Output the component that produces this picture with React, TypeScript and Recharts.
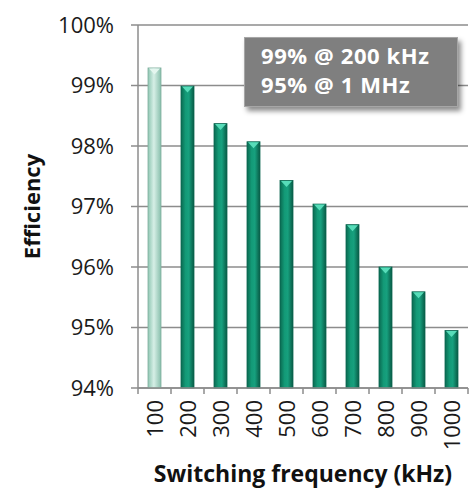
import { BarChart, Bar, XAxis, YAxis, CartesianGrid } from 'recharts';

const frequencies = ['100', '200', '300', '400', '500', '600', '700', '800', '900', '1000'];
const efficiency = [99.29, 98.99, 98.37, 98.07, 97.43, 97.04, 96.7, 96.0, 95.59, 94.95];
const yTicks = [94, 95, 96, 97, 98, 99, 100];
const noteLines = ['99% @ 200 kHz', '95% @ 1 MHz'];

const data = frequencies.map((f, i) => ({ freq: f, eff: efficiency[i] }));

const FONT = '"Open Sans", "Noto Sans", sans-serif';
const GRID = '#8c8c8c';

// bar with horizontal shading and the little light triangle on top
const BarShape = (props: any) => {
  const { x, y, width, height, index } = props;
  const first = index === 0;
  const tri = Math.min(7, width / 2);
  return (
    <g>
      <rect x={x} y={y} width={width} height={height} fill={first ? 'url(#gradLight)' : 'url(#gradTeal)'} stroke={first ? '#7fae9e' : '#0b6650'} strokeWidth={0.8} />
      <polygon
        points={`${x + 1},${y + 0.5} ${x + width - 1},${y + 0.5} ${x + width / 2},${y + tri}`}
        fill={first ? '#e4f6ef' : '#57dcb9'}
      />
    </g>
  );
};

const XTick = (props: any) => {
  const { x, y, payload, index } = props;
  const half = 16.5;
  return (
    <g>
      <line x1={x - half} y1={y} x2={x - half} y2={y + 6} stroke={GRID} strokeWidth={1.5} />
      {index === frequencies.length - 1 && (
        <line x1={x + half} y1={y} x2={x + half} y2={y + 6} stroke={GRID} strokeWidth={1.5} />
      )}
      <text
        x={x + 8}
        y={y + 12}
        transform={`rotate(-90 ${x + 8} ${y + 12})`}
        textAnchor="end"
        fontSize={22}
        fontFamily={FONT}
        fill="#1a1a1a"
      >
        {payload.value}
      </text>
    </g>
  );
};

export default function App() {
  return (
    <div style={{ position: 'absolute', left: 0, top: 0, width: 472, height: 489, background: '#fff', fontFamily: FONT }}>
      <BarChart width={472} height={489} data={data} margin={{ top: 25, right: 4, bottom: 0, left: 0 }} barCategoryGap={0}>
        <defs>
          <linearGradient id="gradTeal" x1="0" y1="0" x2="1" y2="0">
            <stop offset="0%" stopColor="#0a6a51" />
            <stop offset="35%" stopColor="#139a77" />
            <stop offset="60%" stopColor="#17a07e" />
            <stop offset="100%" stopColor="#085a45" />
          </linearGradient>
          <linearGradient id="gradLight" x1="0" y1="0" x2="1" y2="0">
            <stop offset="0%" stopColor="#8ec6b2" />
            <stop offset="45%" stopColor="#d6efe6" />
            <stop offset="100%" stopColor="#88bfac" />
          </linearGradient>
        </defs>
        <CartesianGrid vertical={false} stroke={GRID} strokeWidth={1.5} />
        <XAxis
          dataKey="freq"
          height={101}
          interval={0}
          tickLine={false}
          tickSize={0}
          tickMargin={0}
          axisLine={{ stroke: GRID, strokeWidth: 1.5 }}
          tick={<XTick />}
          label={{
            value: 'Switching frequency (kHz)',
            position: 'insideBottom',
            offset: 7,
            style: { fontSize: 23, fontWeight: 700, fill: '#111', fontFamily: FONT },
          }}
        />
        <YAxis
          width={138}
          domain={[94, 100]}
          ticks={yTicks}
          interval={0}
          tickFormatter={(v: number) => `${v}%`}
          tickSize={7}
          tickMargin={17}
          tickLine={{ stroke: GRID, strokeWidth: 1.5 }}
          axisLine={{ stroke: GRID, strokeWidth: 1.5 }}
          tick={{ fontSize: 22, fill: '#1a1a1a', fontFamily: FONT }}
          label={{
            value: 'Efficiency',
            angle: -90,
            position: 'insideLeft',
            offset: 0,
            dx: 32,
            style: { fontSize: 22, fontWeight: 700, fill: '#111', fontFamily: FONT, textAnchor: 'middle' },
          }}
        />
        <Bar dataKey="eff" barSize={13} shape={<BarShape />} isAnimationActive={false} />
      </BarChart>
      <div
        style={{
          position: 'absolute',
          left: 244,
          top: 37,
          width: 214,
          height: 70,
          boxSizing: 'border-box',
          background: '#7f7f7f',
          border: '1px solid #a6a6a6',
          boxShadow: '3px 4px 5px rgba(0,0,0,0.45)',
          color: '#fff',
          fontWeight: 700,
          fontSize: 22,
          letterSpacing: 0.6,
          lineHeight: '29px',
          padding: '3px 0 0 16px',
        }}
      >
        {noteLines.map((t) => (
          <div key={t}>{t}</div>
        ))}
      </div>
    </div>
  );
}
